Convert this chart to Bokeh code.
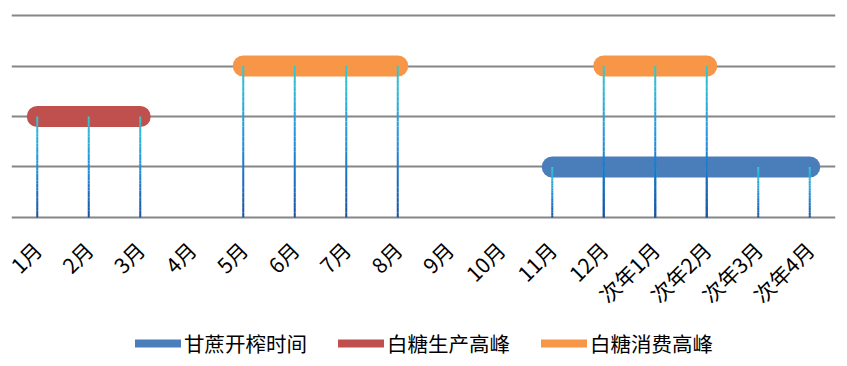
import math
from bokeh.plotting import figure
from bokeh.layouts import column
from bokeh.models import FactorRange, FixedTicker, Legend, LegendItem, Range1d
from bokeh.embed import file_html
from bokeh.resources import INLINE

months = ["1月", "2月", "3月", "4月", "5月", "6月", "7月", "8月", "9月", "10月",
          "11月", "12月", "次年1月", "次年2月", "次年3月", "次年4月"]

# series: name, level, months with points, (start, end) spans
cane_name = "甘蔗开榨时间"
cane_level = 1
cane_months = ["11月", "12月", "次年1月", "次年2月", "次年3月", "次年4月"]
cane_spans = [("11月", "次年4月")]

prod_name = "白糖生产高峰"
prod_level = 2
prod_months = ["1月", "2月", "3月"]
prod_spans = [("1月", "3月")]

cons_name = "白糖消费高峰"
cons_level = 3
cons_months = ["5月", "6月", "7月", "8月", "12月", "次年1月", "次年2月"]
cons_spans = [("5月", "8月"), ("12月", "次年2月")]

grid_levels = [0, 1, 2, 3, 4]

BLUE = "#4a7ebb"
RED = "#c0504d"
ORANGE = "#f79646"
FONT = "Noto Sans CJK SC"

p = figure(x_range=FactorRange(factors=months), y_range=Range1d(-0.04, 4.04),
           width=836, height=327, output_backend="svg",
           toolbar_location=None, min_border_left=11, min_border_right=1,
           min_border_top=13, min_border_bottom=108)
p.outline_line_color = None
p.xgrid.grid_line_color = None
p.ygrid.ticker = FixedTicker(ticks=grid_levels)
p.ygrid.grid_line_color = "#868686"
p.ygrid.grid_line_width = 2
p.yaxis.visible = False
p.xaxis.axis_line_color = None
p.xaxis.major_tick_line_color = None
p.xaxis.minor_tick_line_color = None
p.xaxis.major_label_orientation = math.pi / 4
p.xaxis.major_label_text_font = FONT
p.xaxis.major_label_text_font_size = "21px"
p.xaxis.major_label_text_color = "#000000"
p.xaxis.major_label_standoff = 20

# bars (thick round-capped segments)
for spans, level, color in [(cane_spans, cane_level, BLUE),
                            (prod_spans, prod_level, RED),
                            (cons_spans, cons_level, ORANGE)]:
    p.segment(x0=[s[0] for s in spans], y0=[level] * len(spans),
              x1=[s[1] for s in spans], y1=[level] * len(spans),
              line_width=21, line_cap="round", color=color)

# gradient stems
stops = [(0.0, (0x1a, 0x50, 0x9c)), (0.5, (0x1e, 0x8e, 0xe0)), (1.0, (0x33, 0xcb, 0xd0))]

def grad(t):
    for (t0, c0), (t1, c1) in zip(stops[:-1], stops[1:]):
        if t <= t1:
            f = (t - t0) / (t1 - t0)
            c = [round(a + (b - a) * f) for a, b in zip(c0, c1)]
            return "#%02x%02x%02x" % tuple(c)
    return "#%02x%02x%02x" % stops[-1][1]

N = 30
for ms, level in [(cane_months, cane_level), (prod_months, prod_level), (cons_months, cons_level)]:
    xs, y0s, y1s, cols = [], [], [], []
    for m in ms:
        for k in range(N):
            xs.append(m)
            y0s.append(level * k / N)
            y1s.append(level * (k + 1) / N + 0.001)
            cols.append(grad((k + 0.5) / N))
    p.segment(x0=xs, y0=y0s, x1=xs, y1=y1s, line_width=2, color=cols)

# legend in its own strip below the chart
pl = figure(width=836, height=31, x_range=Range1d(0, 1), y_range=Range1d(0, 1),
            output_backend="svg", toolbar_location=None, min_border=0)
pl.outline_line_color = None
pl.axis.visible = False
pl.grid.visible = False
items = []
for name, color in [(cane_name, BLUE), (prod_name, RED), (cons_name, ORANGE)]:
    r = pl.line(x=[-10, -9], y=[-10, -10], line_width=8, line_cap="round", color=color)
    items.append(LegendItem(label=name, renderers=[r]))
legend = Legend(items=items, orientation="horizontal", location=(124, 0),
                border_line_color=None, background_fill_alpha=0,
                label_text_font=FONT, label_text_font_size="20.5px",
                label_text_color="#000000", glyph_width=46, glyph_height=20,
                label_standoff=3, spacing=31, padding=0, margin=0)
pl.add_layout(legend, "center")

layout = column(p, pl, spacing=0)
open("out.html", "w").write(file_html(layout, INLINE))
